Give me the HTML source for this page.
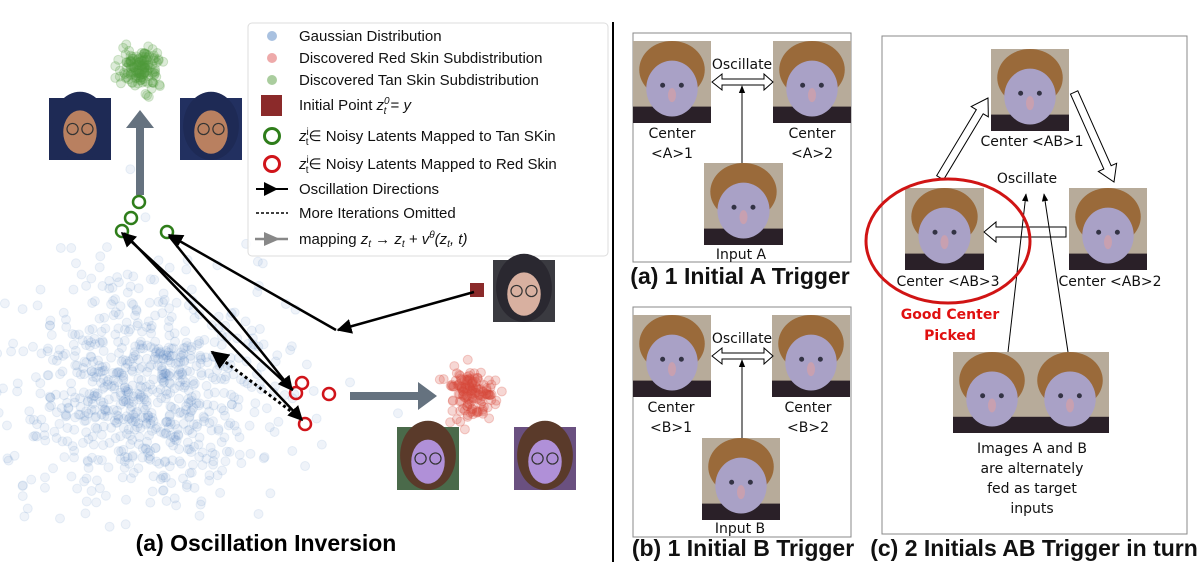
<!DOCTYPE html>
<html><head><meta charset="utf-8"><style>
html,body{margin:0;background:#fff;width:1200px;height:562px;overflow:hidden}
svg{display:block}
.t{font-family:"Liberation Sans",sans-serif}
.c{font-family:"Comic Sans MS","DejaVu Sans",sans-serif;font-size:14px}
</style></head><body>
<svg id="s" width="1200" height="562" viewBox="0 0 1200 562" xmlns="http://www.w3.org/2000/svg">
<defs>
<marker id="ah" viewBox="0 0 10 10" refX="9" refY="5" markerWidth="6" markerHeight="6" orient="auto"><path d="M0,0 L10,5 L0,10 z" fill="#000"/></marker>
<marker id="ah2" viewBox="0 0 10 10" refX="9" refY="5" markerWidth="8" markerHeight="8" orient="auto"><path d="M0,1 L10,5 L0,9 z" fill="#000"/></marker>
</defs>
<g id="pts"></g>
<polygon points="136,195 144,195 144,128 154,128 140,110 126,128 136,128" fill="#65727f"/>
<polygon points="350,392 418,392 418,382 437,396 418,410 418,400 350,400" fill="#65727f"/>
<g fill="none" stroke="#2e7d1a" stroke-width="2.5">
<circle cx="139" cy="202" r="6"/><circle cx="131" cy="218" r="6"/><circle cx="122" cy="231" r="6"/><circle cx="167" cy="232" r="6"/>
</g>
<g fill="none" stroke="#d0141a" stroke-width="2.5">
<circle cx="302" cy="383" r="6"/><circle cx="296" cy="393" r="6"/><circle cx="329" cy="394" r="6"/><circle cx="305" cy="424" r="6"/>
</g>
<rect x="470" y="283" width="14" height="14" fill="#8b2a2a"/>
<g stroke="#000" stroke-width="2.5" fill="none">
<line x1="474" y1="292" x2="338" y2="330" marker-end="url(#ah)"/>
<line x1="336" y1="330" x2="169" y2="235" marker-end="url(#ah)"/>
<line x1="169" y1="236" x2="292" y2="390" marker-end="url(#ah)"/>
<line x1="293" y1="390" x2="122" y2="233" marker-end="url(#ah)"/>
<line x1="124" y1="233" x2="302" y2="420" marker-end="url(#ah)"/>
<line x1="300" y1="418" x2="212" y2="352" stroke-dasharray="3,3" stroke-width="3" marker-end="url(#ah)"/>
</g>
<rect x="248" y="23" width="360" height="233" rx="4" fill="#fff" fill-opacity="0.85" stroke="#ddd"/>
<g class="t" font-size="15" fill="#111">
<circle cx="272" cy="36" r="5" fill="#a9c1e0"/><text x="299" y="41">Gaussian Distribution</text>
<circle cx="272" cy="58" r="5" fill="#eeaaaa"/><text x="299" y="63">Discovered Red Skin Subdistribution</text>
<circle cx="272" cy="80" r="5" fill="#aacd9e"/><text x="299" y="85">Discovered Tan Skin Subdistribution</text>
<rect x="261" y="95" width="21" height="21" fill="#8b2a2a"/><text x="299" y="110">Initial Point <tspan font-style="italic">z</tspan><tspan font-size="10" dy="-6" font-style="italic">0</tspan><tspan font-size="10" dx="-6" dy="10" font-style="italic">t</tspan><tspan dy="-4"> = </tspan><tspan font-style="italic">y</tspan></text>
<circle cx="272" cy="136" r="7.5" fill="none" stroke="#2e7d1a" stroke-width="3"/><text x="299" y="141"><tspan font-style="italic">z</tspan><tspan font-size="10" dy="-6">i</tspan><tspan font-size="10" dx="-3" dy="10">t</tspan><tspan dy="-4">∈ Noisy Latents Mapped to Tan SKin</tspan></text>
<circle cx="272" cy="164" r="7.5" fill="none" stroke="#d0141a" stroke-width="3"/><text x="299" y="169"><tspan font-style="italic">z</tspan><tspan font-size="10" dy="-6">i</tspan><tspan font-size="10" dx="-3" dy="10">t</tspan><tspan dy="-4">∈ Noisy Latents Mapped to Red Skin</tspan></text>
<line x1="256" y1="189" x2="288" y2="189" stroke="#000" stroke-width="2"/><polygon points="264,182 278,189 264,196" fill="#000"/><text x="299" y="194">Oscillation Directions</text>
<line x1="256" y1="213" x2="288" y2="213" stroke="#000" stroke-width="1.5" stroke-dasharray="3,2"/><text x="299" y="218">More Iterations Omitted</text>
<line x1="255" y1="239" x2="288" y2="239" stroke="#888" stroke-width="2.5"/><polygon points="264,232 280,239 264,246" fill="#888"/><text x="299" y="244">mapping <tspan font-style="italic">z<tspan font-size="10" dy="3">t</tspan><tspan dy="-3"> → z</tspan><tspan font-size="10" dy="3">t</tspan><tspan dy="-3"> + v</tspan><tspan font-size="10" dy="-6">θ</tspan><tspan dy="6">(z</tspan><tspan font-size="10" dy="3">t</tspan><tspan dy="-3">, t)</tspan></tspan></text>
</g>
<g id="faces"></g>
<text class="t" x="266" y="551" font-size="23" font-weight="bold" text-anchor="middle">(a) Oscillation Inversion</text>
<line x1="613" y1="22" x2="613" y2="562" stroke="#000" stroke-width="2"/>
<rect x="633" y="33" width="218" height="229" fill="none" stroke="#888"/>
<rect x="633" y="307" width="218" height="230" fill="none" stroke="#888"/>
<rect x="882" y="36" width="305" height="498" fill="none" stroke="#888"/>
<g id="eds"></g>
<g stroke="#000" fill="#fff" stroke-width="1">
<polygon points="712,82 722,74 722,79 764,79 764,74 773,82 764,90 764,85 722,85 722,90"/>
<polygon points="712,356 722,348 722,353 764,353 764,348 773,356 764,364 764,359 722,359 722,364"/>
<g transform="translate(988,98) rotate(-59)"><polygon points="0,0 -16,-10 -16,-4 -93,-4 -93,4 -16,4 -16,10"/></g>
<g transform="translate(1114,182) rotate(66)"><polygon points="0,0 -16,-10 -16,-4 -98,-4 -98,4 -16,4 -16,10"/></g>
<polygon points="984,232 996,222 996,227 1066,227 1066,237 996,237 996,242"/>
</g>
<g stroke="#000" stroke-width="1" fill="none">
<line x1="742" y1="163" x2="742" y2="86" marker-end="url(#ah2)"/>
<line x1="742" y1="438" x2="742" y2="360" marker-end="url(#ah2)"/>
<line x1="1008" y1="352" x2="1026" y2="194" marker-end="url(#ah2)"/>
<line x1="1068" y1="352" x2="1044" y2="194" marker-end="url(#ah2)"/>
</g>
<ellipse cx="948" cy="241" rx="82" ry="62" fill="none" stroke="#d01414" stroke-width="3"/>
<g class="c" fill="#111" text-anchor="middle">
<text x="742" y="69">Oscillate</text>
<text x="672" y="138">Center</text><text x="672" y="158">&lt;A&gt;1</text>
<text x="812" y="138">Center</text><text x="812" y="158">&lt;A&gt;2</text>
<text x="741" y="259">Input A</text>
<text x="742" y="343">Oscillate</text>
<text x="671" y="412">Center</text><text x="671" y="432">&lt;B&gt;1</text>
<text x="808" y="412">Center</text><text x="808" y="432">&lt;B&gt;2</text>
<text x="740" y="533">Input B</text>
<text x="1032" y="146">Center &lt;AB&gt;1</text>
<text x="1027" y="183">Oscillate</text>
<text x="948" y="286">Center &lt;AB&gt;3</text>
<text x="1110" y="286">Center &lt;AB&gt;2</text>
<text x="950" y="319" fill="#e01010" font-weight="bold">Good Center</text>
<text x="950" y="340" fill="#e01010" font-weight="bold">Picked</text>
<text x="1032" y="453">Images A and B</text>
<text x="1032" y="473">are alternately</text>
<text x="1032" y="493">fed as target</text>
<text x="1032" y="513">inputs</text>
</g>
<g class="t" font-size="23" font-weight="bold" fill="#111" text-anchor="middle">
<text x="740" y="284">(a) 1 Initial A Trigger</text>
<text x="743" y="556">(b) 1 Initial B Trigger</text>
<text x="1034" y="556">(c) 2 Initials AB Trigger in turn</text>
</g>
</svg>
<script>
var NS="http://www.w3.org/2000/svg";
var seed=7;function r(){seed=(seed*16807)%2147483647;return (seed-1)/2147483646;}
function g(){var u=r()||1e-6,v=r();return Math.sqrt(-2*Math.log(u))*Math.cos(2*Math.PI*v);}
var P=document.getElementById('pts');
function add(n,cx,cy,sx,sy,col,op,rad){for(var i=0;i<n;i++){var x=cx+g()*sx,y=cy+g()*sy;if(y>540||x<-5)continue;var c=document.createElementNS(NS,'circle');c.setAttribute('cx',x);c.setAttribute('cy',y);c.setAttribute('r',rad);c.setAttribute('fill',col);c.setAttribute('fill-opacity',op);c.setAttribute('stroke',col);c.setAttribute('stroke-opacity',op*1.2);P.appendChild(c);}}
add(800,145,392,65,55,'#4a7fc0',0.09,4.5);
add(140,140,68,11,10,'#4f9a3a',0.2,4.5);
add(140,472,393,11,12,'#d84a3a',0.22,4.5);
function el(p,tag,a){var e=document.createElementNS(NS,tag);for(var k in a)e.setAttribute(k,a[k]);p.appendChild(e);return e;}
var F=document.getElementById('faces');
function woman(x,y,w,h,skin,hair,bg){el(F,'rect',{x:x,y:y,width:w,height:h,fill:bg});el(F,'ellipse',{cx:x+w/2,cy:y+h*0.45,rx:w*0.45,ry:h*0.55,fill:hair});el(F,'ellipse',{cx:x+w/2,cy:y+h*0.55,rx:w*0.27,ry:h*0.35,fill:skin});el(F,'circle',{cx:x+w*0.38,cy:y+h*0.5,r:w*0.09,fill:'none',stroke:'#333','stroke-width':1.2});el(F,'circle',{cx:x+w*0.62,cy:y+h*0.5,r:w*0.09,fill:'none',stroke:'#333','stroke-width':1.2});}
woman(49,98,62,62,'#b98060','#1e2a55','#1e2a55');
woman(180,98,62,62,'#b98060','#1e2a55','#223060');
woman(493,260,62,62,'#d8b0a0','#2a2830','#3a3a40');
woman(397,427,62,63,'#b090d8','#5a3a2a','#4a6a4a');
woman(514,427,62,63,'#b090d8','#5a3a2a','#6a5080');
var E=document.getElementById('eds');
function ed(x,y,w,h){el(E,'rect',{x:x,y:y,width:w,height:h,fill:'#b7ab9a'});el(E,'rect',{x:x,y:y+h*0.8,width:w,height:h*0.2,fill:'#2a2028'});el(E,'ellipse',{cx:x+w/2,cy:y+h*0.35,rx:w*0.42,ry:h*0.35,fill:'#9a6a3a'});el(E,'ellipse',{cx:x+w/2,cy:y+h*0.58,rx:w*0.33,ry:h*0.34,fill:'#a9a1c6'});el(E,'circle',{cx:x+w*0.38,cy:y+h*0.54,r:2.5,fill:'#334'});el(E,'circle',{cx:x+w*0.62,cy:y+h*0.54,r:2.5,fill:'#334'});el(E,'ellipse',{cx:x+w/2,cy:y+h*0.66,rx:4,ry:7,fill:'#c8a0b0'});}
ed(633,41,78,82);ed(773,41,78,82);ed(704,163,79,82);
ed(633,315,78,82);ed(772,315,78,82);ed(702,438,78,82);
ed(991,49,78,82);ed(905,188,79,82);ed(1069,188,78,82);
ed(953,352,78,81);ed(1031,352,78,81);
</script>
</body></html>
